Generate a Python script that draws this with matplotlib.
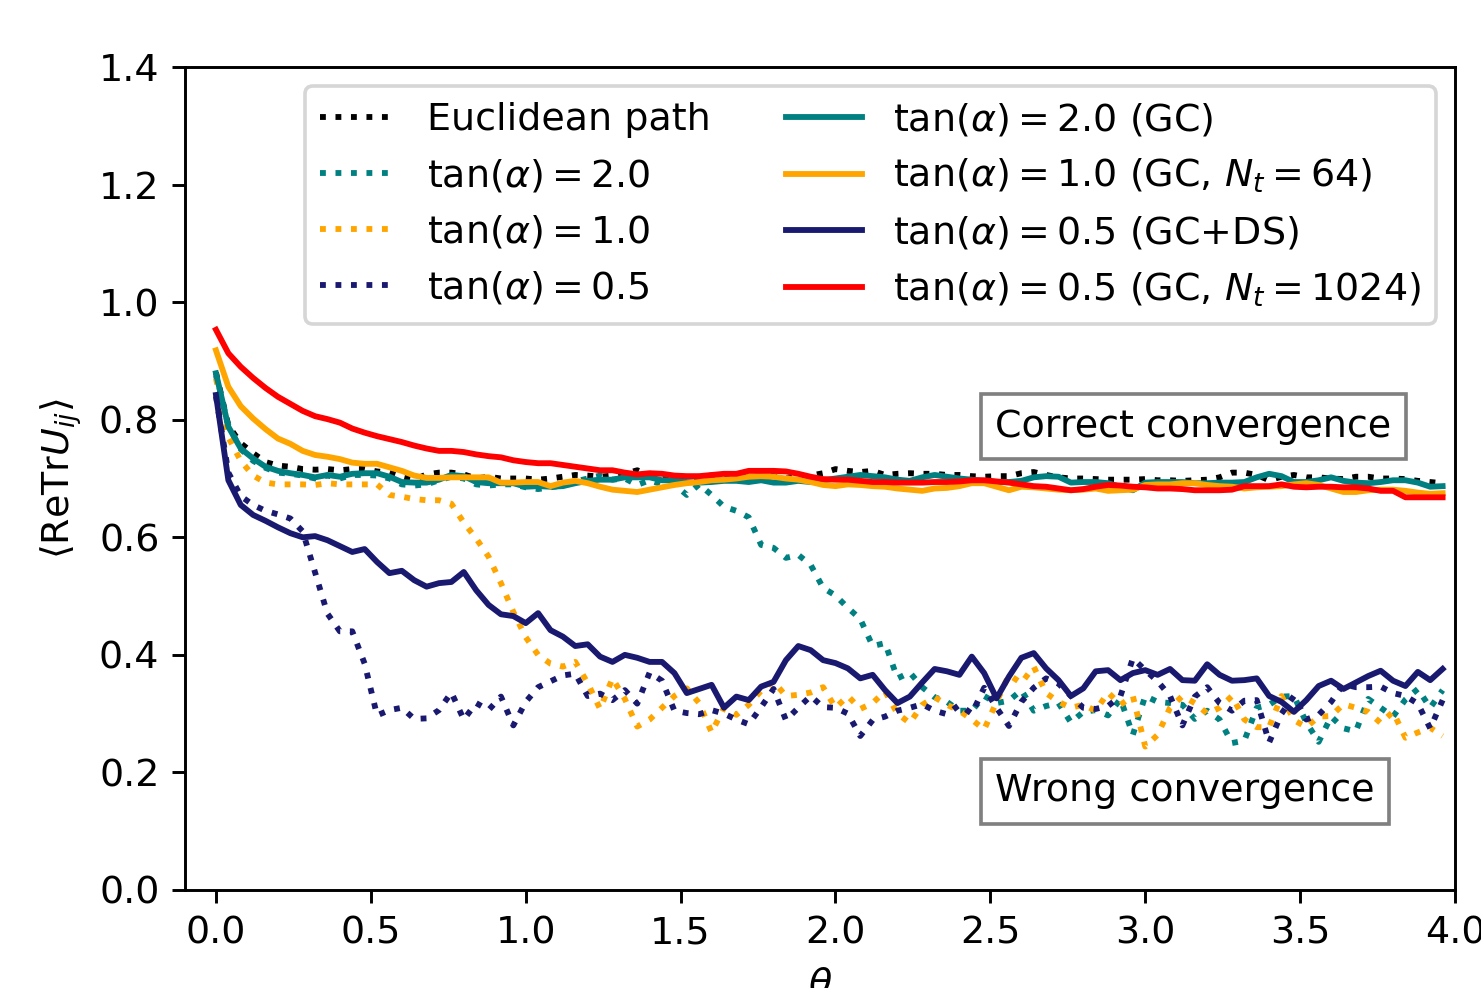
import numpy as np
import matplotlib.pyplot as plt

plt.rcParams['font.size'] = 10.4

# theta grid (100 steps of 0.04)
theta = np.linspace(0.0, 3.96, 100)

euclid = [0.880, 0.790, 0.760, 0.743, 0.728, 0.722, 0.720, 0.716, 0.715, 0.716,
          0.714, 0.716, 0.716, 0.712, 0.710, 0.703, 0.698, 0.707, 0.710, 0.710,
          0.707, 0.700, 0.703, 0.700, 0.700, 0.700, 0.698, 0.700, 0.703, 0.706,
          0.705, 0.703, 0.705, 0.708, 0.714, 0.705, 0.703, 0.702, 0.700, 0.703,
          0.705, 0.707, 0.705, 0.703, 0.703, 0.704, 0.700, 0.702, 0.705, 0.709,
          0.716, 0.713, 0.711, 0.713, 0.706, 0.708, 0.709, 0.708, 0.708, 0.706,
          0.706, 0.704, 0.703, 0.704, 0.704, 0.709, 0.711, 0.706, 0.702, 0.700,
          0.700, 0.699, 0.698, 0.698, 0.698, 0.699, 0.697, 0.697, 0.696, 0.697,
          0.698, 0.702, 0.710, 0.710, 0.706, 0.697, 0.703, 0.706, 0.702, 0.702,
          0.700, 0.699, 0.703, 0.703, 0.700, 0.700, 0.699, 0.696, 0.694, 0.692]

tan20 = [0.875, 0.790, 0.750, 0.730, 0.718, 0.710, 0.708, 0.705, 0.700, 0.705,
         0.700, 0.706, 0.706, 0.705, 0.700, 0.690, 0.688, 0.690, 0.697, 0.703,
         0.700, 0.690, 0.688, 0.690, 0.690, 0.685, 0.682, 0.685, 0.688, 0.695,
         0.700, 0.705, 0.698, 0.700, 0.689, 0.697, 0.690, 0.690, 0.672, 0.690,
         0.672, 0.652, 0.645, 0.634, 0.587, 0.582, 0.565, 0.570, 0.553, 0.514,
         0.501, 0.480, 0.461, 0.415, 0.420, 0.360, 0.370, 0.345, 0.328, 0.320,
         0.305, 0.305, 0.330, 0.318, 0.322, 0.340, 0.305, 0.313, 0.318, 0.285,
         0.303, 0.306, 0.297, 0.325, 0.264, 0.330, 0.320, 0.318, 0.315, 0.291,
         0.305, 0.290, 0.250, 0.254, 0.310, 0.315, 0.329, 0.330, 0.285, 0.252,
         0.295, 0.275, 0.270, 0.325, 0.310, 0.295, 0.324, 0.342, 0.310, 0.340]

tan10 = [0.870, 0.770, 0.730, 0.705, 0.693, 0.690, 0.690, 0.690, 0.689, 0.692,
         0.690, 0.690, 0.690, 0.690, 0.672, 0.669, 0.665, 0.663, 0.663, 0.657,
         0.625, 0.598, 0.567, 0.522, 0.473, 0.430, 0.400, 0.385, 0.380, 0.388,
         0.352, 0.308, 0.360, 0.325, 0.278, 0.290, 0.310, 0.330, 0.343, 0.318,
         0.268, 0.310, 0.298, 0.315, 0.339, 0.355, 0.330, 0.332, 0.336, 0.345,
         0.310, 0.330, 0.308, 0.318, 0.338, 0.300, 0.284, 0.315, 0.328, 0.315,
         0.305, 0.290, 0.273, 0.320, 0.366, 0.352, 0.380, 0.335, 0.320, 0.310,
         0.315, 0.305, 0.336, 0.315, 0.330, 0.244, 0.264, 0.310, 0.330, 0.318,
         0.300, 0.310, 0.330, 0.290, 0.277, 0.277, 0.330, 0.289, 0.277, 0.295,
         0.296, 0.316, 0.310, 0.303, 0.284, 0.303, 0.259, 0.268, 0.276, 0.262]

tan05 = [0.840, 0.710, 0.670, 0.655, 0.645, 0.639, 0.632, 0.610, 0.540, 0.470,
         0.440, 0.440, 0.385, 0.297, 0.306, 0.310, 0.291, 0.292, 0.306, 0.336,
         0.290, 0.318, 0.306, 0.329, 0.280, 0.320, 0.345, 0.355, 0.365, 0.368,
         0.330, 0.334, 0.323, 0.340, 0.317, 0.370, 0.356, 0.305, 0.301, 0.299,
         0.306, 0.300, 0.290, 0.282, 0.311, 0.342, 0.289, 0.310, 0.330, 0.311,
         0.310, 0.300, 0.262, 0.289, 0.295, 0.305, 0.310, 0.316, 0.305, 0.299,
         0.315, 0.300, 0.344, 0.310, 0.279, 0.320, 0.344, 0.360, 0.351, 0.330,
         0.310, 0.308, 0.313, 0.330, 0.394, 0.374, 0.355, 0.330, 0.280, 0.329,
         0.345, 0.318, 0.305, 0.322, 0.323, 0.251, 0.300, 0.330, 0.290, 0.298,
         0.320, 0.350, 0.345, 0.345, 0.346, 0.335, 0.330, 0.317, 0.275, 0.323]

gc20 = [0.879, 0.788, 0.751, 0.734, 0.720, 0.713, 0.709, 0.706, 0.702, 0.706,
        0.703, 0.708, 0.709, 0.709, 0.703, 0.694, 0.693, 0.693, 0.698, 0.706,
        0.704, 0.694, 0.692, 0.692, 0.692, 0.686, 0.687, 0.686, 0.687, 0.692,
        0.696, 0.698, 0.698, 0.702, 0.702, 0.702, 0.697, 0.697, 0.694, 0.693,
        0.694, 0.696, 0.696, 0.694, 0.697, 0.693, 0.693, 0.696, 0.694, 0.697,
        0.700, 0.703, 0.706, 0.704, 0.702, 0.698, 0.696, 0.702, 0.706, 0.703,
        0.700, 0.698, 0.696, 0.694, 0.694, 0.696, 0.702, 0.704, 0.703, 0.693,
        0.694, 0.694, 0.692, 0.686, 0.680, 0.693, 0.694, 0.694, 0.694, 0.692,
        0.692, 0.693, 0.693, 0.694, 0.702, 0.708, 0.704, 0.694, 0.694, 0.697,
        0.702, 0.696, 0.693, 0.692, 0.694, 0.697, 0.697, 0.693, 0.686, 0.687]

gc10_nt64 = [0.918, 0.856, 0.823, 0.802, 0.784, 0.768, 0.759, 0.747, 0.740, 0.737,
             0.733, 0.727, 0.725, 0.725, 0.719, 0.713, 0.705, 0.701, 0.701, 0.702,
             0.702, 0.702, 0.702, 0.693, 0.693, 0.694, 0.694, 0.687, 0.693, 0.696,
             0.692, 0.686, 0.681, 0.679, 0.677, 0.681, 0.685, 0.689, 0.692, 0.694,
             0.697, 0.698, 0.700, 0.703, 0.704, 0.703, 0.700, 0.698, 0.694, 0.689,
             0.687, 0.690, 0.689, 0.687, 0.686, 0.683, 0.681, 0.679, 0.683, 0.684,
             0.687, 0.692, 0.692, 0.686, 0.680, 0.686, 0.685, 0.683, 0.681, 0.680,
             0.681, 0.683, 0.679, 0.680, 0.681, 0.689, 0.690, 0.690, 0.692, 0.692,
             0.689, 0.687, 0.686, 0.683, 0.685, 0.686, 0.687, 0.690, 0.692, 0.689,
             0.683, 0.677, 0.677, 0.680, 0.681, 0.681, 0.679, 0.676, 0.674, 0.675]

gcds05 = [0.842, 0.697, 0.655, 0.638, 0.628, 0.617, 0.607, 0.600, 0.602, 0.595,
          0.585, 0.575, 0.580, 0.558, 0.539, 0.543, 0.527, 0.516, 0.522, 0.524,
          0.541, 0.510, 0.485, 0.469, 0.466, 0.454, 0.471, 0.442, 0.431, 0.415,
          0.418, 0.397, 0.388, 0.400, 0.395, 0.388, 0.388, 0.369, 0.335, 0.342,
          0.349, 0.310, 0.329, 0.323, 0.346, 0.354, 0.391, 0.415, 0.408, 0.391,
          0.386, 0.377, 0.360, 0.366, 0.340, 0.318, 0.329, 0.353, 0.376, 0.372,
          0.366, 0.397, 0.369, 0.326, 0.363, 0.395, 0.403, 0.377, 0.357, 0.330,
          0.343, 0.372, 0.374, 0.357, 0.369, 0.374, 0.366, 0.376, 0.357, 0.356,
          0.384, 0.366, 0.356, 0.357, 0.360, 0.330, 0.320, 0.303, 0.323, 0.347,
          0.356, 0.342, 0.353, 0.364, 0.373, 0.356, 0.347, 0.371, 0.357, 0.376]

gc05_nt1024 = [0.953, 0.913, 0.890, 0.871, 0.854, 0.839, 0.827, 0.815, 0.806, 0.801,
               0.795, 0.785, 0.778, 0.772, 0.767, 0.762, 0.756, 0.751, 0.747, 0.747,
               0.745, 0.741, 0.738, 0.736, 0.731, 0.728, 0.726, 0.726, 0.723, 0.720,
               0.717, 0.714, 0.714, 0.710, 0.707, 0.709, 0.708, 0.705, 0.704, 0.704,
               0.706, 0.708, 0.708, 0.713, 0.713, 0.713, 0.712, 0.708, 0.703, 0.699,
               0.698, 0.698, 0.696, 0.694, 0.694, 0.693, 0.693, 0.693, 0.694, 0.694,
               0.695, 0.697, 0.697, 0.695, 0.693, 0.690, 0.687, 0.686, 0.683, 0.680,
               0.682, 0.686, 0.689, 0.688, 0.686, 0.685, 0.683, 0.683, 0.682, 0.680,
               0.680, 0.680, 0.681, 0.687, 0.687, 0.687, 0.690, 0.686, 0.685, 0.686,
               0.686, 0.685, 0.685, 0.683, 0.679, 0.679, 0.668, 0.668, 0.668, 0.668]

DPI = 263
fig = plt.figure(figsize=(1481 / DPI, 988 / DPI), dpi=DPI)
ax = fig.add_axes([185 / 1481, 98 / 988, 1270 / 1481, 823 / 988])

lw = 1.6
ax.plot(theta, euclid, ':', color='black', lw=lw, label='Euclidean path')
ax.plot(theta, tan20, ':', color='teal', lw=lw, label=r'$\tan(\alpha) = 2.0$')
ax.plot(theta, tan10, ':', color='orange', lw=lw, label=r'$\tan(\alpha) = 1.0$')
ax.plot(theta, tan05, ':', color='midnightblue', lw=lw, label=r'$\tan(\alpha) = 0.5$')
ax.plot(theta, gc20, '-', color='teal', lw=lw, label=r'$\tan(\alpha) = 2.0$ (GC)')
ax.plot(theta, gc10_nt64, '-', color='orange', lw=lw,
        label=r'$\tan(\alpha) = 1.0$ (GC, $N_t = 64$)')
ax.plot(theta, gcds05, '-', color='midnightblue', lw=lw,
        label=r'$\tan(\alpha) = 0.5$ (GC+DS)')
ax.plot(theta, gc05_nt1024, '-', color='red', lw=lw,
        label=r'$\tan(\alpha) = 0.5$ (GC, $N_t = 1024$)')

ax.set_xlim(-0.1, 4.0)
ax.set_ylim(0.0, 1.4)
ax.set_xticks(np.arange(0, 4.01, 0.5))
ax.set_yticks(np.arange(0, 1.41, 0.2))
ax.set_xlabel(r'$\theta$')
ax.set_ylabel(r'$\langle \mathrm{ReTr} U_{ij} \rangle$')

ax.legend(ncol=2, loc='upper right')

box = dict(facecolor='white', edgecolor='grey')
ax.text(2.515, 0.788, 'Correct convergence', va='center', bbox=box)
ax.text(2.515, 0.168, 'Wrong convergence', va='center', bbox=box)

fig.savefig('out.png', dpi=DPI)
